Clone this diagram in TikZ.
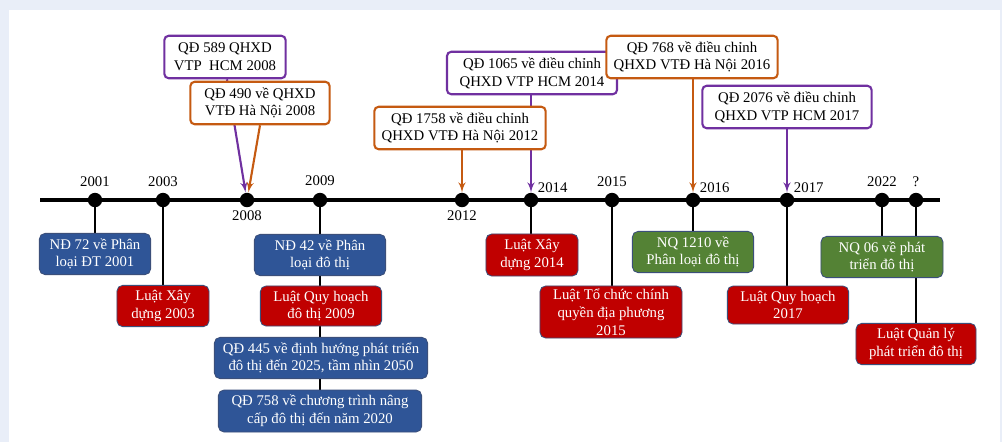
\documentclass[tikz,border=0pt]{standalone}
\usepackage{fontspec}
\setmainfont{Liberation Serif}
\usetikzlibrary{arrows,positioning,backgrounds}
\definecolor{hcmpurple}{HTML}{7030A0}
\definecolor{hnorange}{HTML}{C55A11}
\definecolor{ndblue}{HTML}{2F5597}
\definecolor{luatred}{HTML}{C00000}
\definecolor{nqgreen}{HTML}{548235}
\definecolor{boxedge}{HTML}{3B4F7A}
\definecolor{pagebg}{HTML}{E9EEF8}
\tikzstyle{yearpt} = [circle, fill=black, minimum size=0.36cm, inner sep=0pt]
\tikzstyle{yearlbl} = [inner sep=1pt, font=\fontsize{10.5}{12}\selectfont]
\tikzstyle{topbox} = [rectangle, rounded corners=3pt, line width=1.5pt, fill=white, align=center, minimum height=1.06cm, inner sep=1pt, font=\fontsize{10.5}{12.6}\selectfont]
\tikzstyle{hcm} = [topbox, draw=hcmpurple]
\tikzstyle{hn} = [topbox, draw=hnorange]
\tikzstyle{lawbox} = [rectangle, rounded corners=4pt, draw=boxedge, line width=0.6pt, text=white, align=center, minimum height=1.03cm, inner sep=1pt, font=\fontsize{10.5}{12.6}\selectfont]
\tikzstyle{ndbox} = [lawbox, fill=ndblue]
\tikzstyle{luatbox} = [lawbox, fill=luatred]
\tikzstyle{nqbox} = [lawbox, fill=nqgreen]
\tikzstyle{stemline} = [draw, line width=1.3pt]
\tikzstyle{parrow} = [draw=hcmpurple, line width=1.5pt, -latex']
\tikzstyle{oarrow} = [draw=hnorange, line width=1.5pt, -latex']
\begin{document}
\begin{tikzpicture}[x=0.025cm, y=-0.025cm]
		\useasboundingbox (0,0) rectangle (1002,442);
		\begin{scope}[on background layer]
		\fill[pagebg] (0,0) rectangle (1002,442);
		\fill[white] (9,10) rectangle (1000,442);
		\end{scope}
		
		% time axis
		\draw[line width=2.2pt] (40,200) coordinate (axl) -- (940,200) coordinate (axr);
		\node[yearpt] (d2001) at (95,200) {};
		\node[yearpt] (d2003) at (163,200) {};
		\node[yearpt] (d2008) at (247,200) {};
		\node[yearpt] (d2009) at (320,200) {};
		\node[yearpt] (d2012) at (462,200) {};
		\node[yearpt] (d2014) at (531,200) {};
		\node[yearpt] (d2015) at (612,200) {};
		\node[yearpt] (d2016) at (693,200) {};
		\node[yearpt] (d2017) at (787,200) {};
		\node[yearpt] (d2022) at (882,200) {};
		\node[yearpt] (dq) at (916,200) {};
		
		\node[yearlbl, above=3pt of d2001] (y2001) {2001};
		\node[yearlbl, above=3pt of d2003] (y2003) {2003};
		\node[yearlbl, below=1pt of d2008] (y2008) {2008};
		\node[yearlbl, above=4pt of d2009] (y2009) {2009};
		\node[yearlbl, below=1pt of d2012] (y2012) {2012};
		\node[yearlbl, anchor=south west] (y2014) at (d2014.north east) {2014};
		\node[yearlbl, above=3pt of d2015] (y2015) {2015};
		\node[yearlbl, anchor=south west] (y2016) at (d2016.north east) {2016};
		\node[yearlbl, anchor=south west] (y2017) at (d2017.north east) {2017};
		\node[yearlbl, above=3pt of d2022] (y2022) {2022};
		\node[yearlbl, above=3pt of dq] (yq) {?};
		
		% plans above the axis
		\node[hcm, minimum width=3.03cm] (q589) at (225,57) {QĐ 589 QHXD\\VTP\ \ HCM 2008};
		\node[hn, minimum width=3.48cm] (q490) at (260,103) {QĐ 490 về QHXD\\VTĐ Hà Nội 2008};
		\node[hn, minimum width=4.28cm] (q1758) at (460,128) {QĐ 1758 về điều chỉnh\\QHXD VTĐ Hà Nội 2012};
		\node[hcm, minimum width=4.25cm] (q1065) at (532,73) {QĐ 1065 về điều chỉnh\\QHXD VTP HCM 2014};
		\node[hn, minimum width=4.28cm] (q768) at (692,57) {QĐ 768 về điều chỉnh\\QHXD VTĐ Hà Nội 2016};
		\node[hcm, minimum width=4.23cm] (q2076) at (787,107) {QĐ 2076 về điều chỉnh\\QHXD VTP HCM 2017};
		
		% legal documents below the axis
		\node[ndbox, minimum width=2.78cm] (nd72) at (95,254) {NĐ 72 về Phân\\loại ĐT 2001};
		\node[luatbox, minimum width=2.3cm] (lxd03) at (163,306) {Luật Xây\\dựng 2003};
		\node[ndbox, minimum width=3.28cm] (nd42) at (320,255) {NĐ 42 về Phân\\loại đô thị};
		\node[luatbox, minimum width=3.03cm, minimum height=1cm] (lqh09) at (321,306) {Luật Quy hoạch\\đô thị 2009};
		\node[ndbox, minimum width=5.33cm] (qd445) at (321,358) {QĐ 445 về định hướng phát triển\\đô thị đến 2025, tầm nhìn 2050};
		\node[ndbox, minimum width=5.08cm, minimum height=1.05cm] (qd758) at (320,411) {QĐ 758 về chương trình nâng\\cấp đô thị đến năm 2020};
		\node[luatbox, minimum width=2.3cm, minimum height=1.05cm] (lxd14) at (532,255) {Luật Xây\\dựng 2014};
		\node[luatbox, minimum width=3.55cm, minimum height=1.3cm] (ltc15) at (611,312) {Luật Tổ chức chính\\quyền địa phương\\2015};
		\node[nqbox, minimum width=3.03cm] (nq1210) at (693,252) {NQ 1210 về\\Phân loại đô thị};
		\node[luatbox, minimum width=3.03cm, minimum height=0.95cm] (lqh17) at (788,305) {Luật Quy hoạch\\2017};
		\node[nqbox, minimum width=3.05cm] (nq06) at (882,257) {NQ 06 về phát\\triển đô thị};
		\node[luatbox, minimum width=3cm] (lql) at (916,344) {Luật Quản lý\\phát triển đô thị};
		
		\begin{scope}[on background layer]
		\path[parrow] ([xshift=1.4pt]q589.south) -- ([xshift=-1pt]d2008.north);
		\path[oarrow] (q490.south) -- ([xshift=1pt]d2008.north);
		\path[oarrow] (q1758.south -| d2012) -- (d2012.north);
		\path[parrow] (q1065.south -| d2014) -- (d2014.north);
		\path[oarrow] (q768.south -| d2016) -- (d2016.north);
		\path[parrow] (q2076.south -| d2017) -- (d2017.north);
		
		\path[stemline] (d2001.center) -- (d2001.center |- nd72.north);
		\path[stemline] (d2003.center) -- (d2003.center |- lxd03.north);
		\path[stemline] (d2009.center) -- (d2009.center |- qd758.north);
		\path[stemline] (d2014.center) -- (d2014.center |- lxd14.north);
		\path[stemline] (d2015.center) -- (d2015.center |- ltc15.north);
		\path[stemline] (d2016.center) -- (d2016.center |- nq1210.north);
		\path[stemline] (d2017.center) -- (d2017.center |- lqh17.north);
		\path[stemline] (d2022.center) -- (d2022.center |- nq06.north);
		\path[stemline] (dq.center) -- (dq.center |- lql.north);
		\end{scope}
\end{tikzpicture}
\end{document}
